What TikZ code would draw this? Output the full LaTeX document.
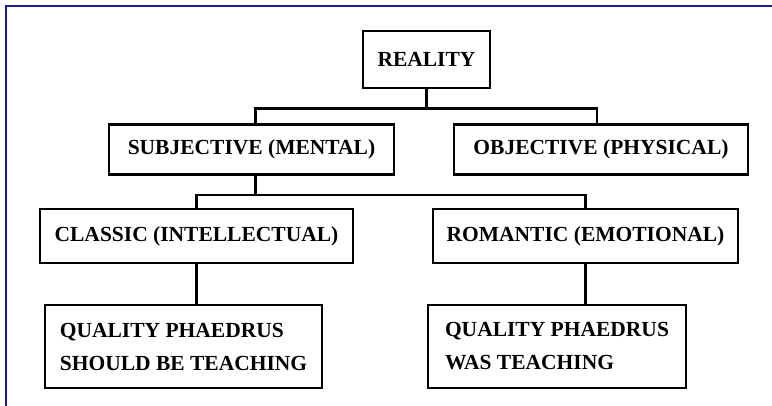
\documentclass[tikz,border=0pt]{standalone}
\usepackage{fontspec}
\setmainfont{Liberation Serif}
\usepackage{xcolor}
\usetikzlibrary{positioning}
\definecolor{frameblue}{RGB}{26,26,150}

\begin{document}
\begin{tikzpicture}[
    x=1pt, y=1pt,
    every node/.style={font=\fontsize{21.5}{33}\selectfont\bfseries},
    cbox/.style={draw, line width=2.8pt, inner sep=0pt},
    link/.style={line width=2.4pt}
]
\useasboundingbox (0,0) rectangle (772,406);
% page frame, only top and left edges show
\draw[frameblue, line width=2.5pt] (6,0) |- (772,400);
% boxes: reality, subjective, objective, classic, romantic, quality
\node[cbox, minimum width=127, minimum height=57] (reality)    at (426.5,346.5) {REALITY};
\node[cbox, minimum width=285, minimum height=50] (subjective) at (251.5,256.5) {SUBJECTIVE (MENTAL)};
\node[cbox, minimum width=294, minimum height=50] (objective)  at (601,256.5)   {OBJECTIVE (PHYSICAL)};
\node[cbox, minimum width=313, minimum height=54] (classic)    at (196.5,170)   {CLASSIC (INTELLECTUAL)};
\node[cbox, minimum width=305, minimum height=54] (romantic)   at (585.5,170)   {ROMANTIC (EMOTIONAL)};
\node[cbox, minimum width=277, minimum height=83, align=left] (qualityL) at (183.5,59.5)
  {QUALITY PHAEDRUS\\SHOULD BE TEACHING};
\node[cbox, minimum width=258, minimum height=83, align=left] (qualityR) at (557,59.5)
  {QUALITY PHAEDRUS\\WAS TEACHING};
% tree lines
\draw[link] (reality.south) -- ++(0,-19) -| ([xshift=4]subjective.north);
\draw[link] (reality.south) -- ++(0,-19) -| ([xshift=-4]objective.north);
\draw[link] ([xshift=4]subjective.south) -- ++(0,-19) -| (classic.north);
\draw[link] ([xshift=4]subjective.south) -- ++(0,-19) -| (romantic.north);
\draw[link] (classic.south) -- (classic.south |- qualityL.north);
\draw[link] (romantic.south) -- (romantic.south |- qualityR.north);
\end{tikzpicture}
\end{document}
